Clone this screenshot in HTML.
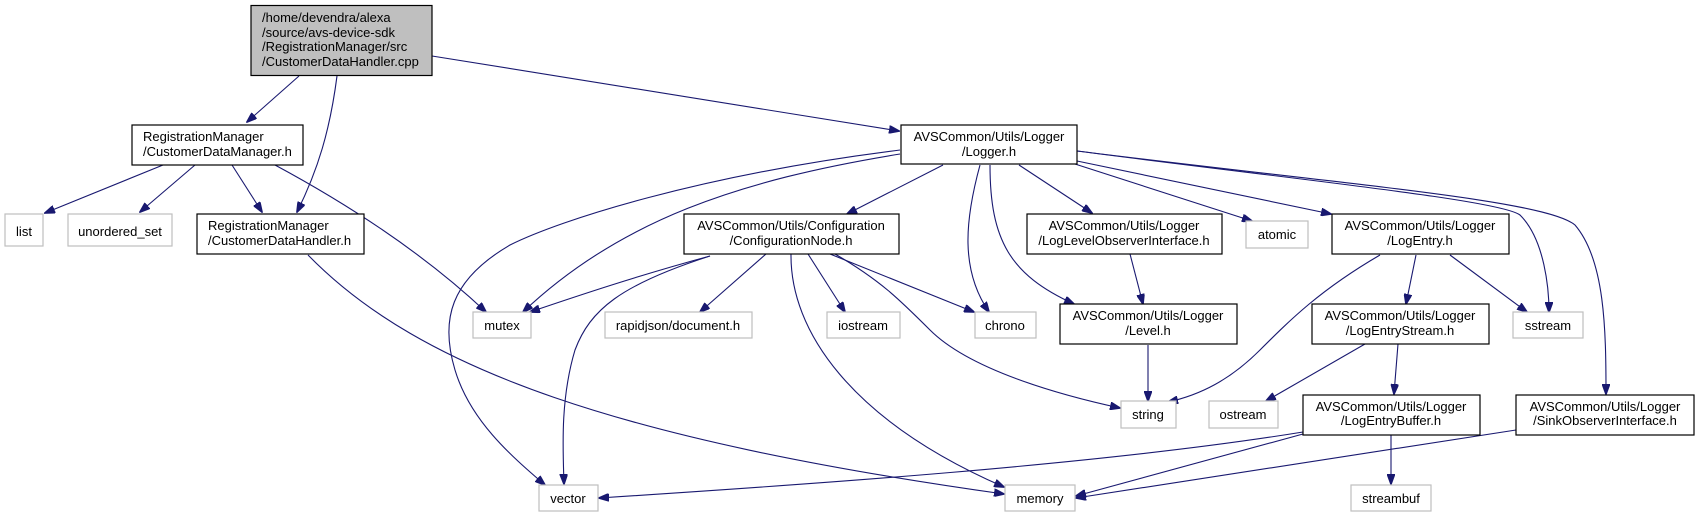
<!DOCTYPE html>
<html><head><meta charset="utf-8"><style>
html,body{margin:0;padding:0;background:#fff;}
svg{display:block;}
text{font-family:"Liberation Sans",Arial,sans-serif;font-size:13px;fill:#000;}
.n{fill:#fff;stroke:#000;stroke-width:1.2;}
.g{fill:#fff;stroke:#bfbfbf;stroke-width:1.2;}
.e{fill:none;stroke:#191970;stroke-width:1.1;}
</style></head><body>
<svg width="1695" height="513" viewBox="0 0 1695 513" xmlns="http://www.w3.org/2000/svg">
<defs>
<marker id="a" markerWidth="11" markerHeight="8" refX="10" refY="4" orient="auto" markerUnits="userSpaceOnUse">
<path d="M0,0 L11,4 L0,8 z" fill="#191970" stroke="#191970"/>
</marker>
</defs>
<g marker-end="url(#a)">
<path class="e" d="M299,76 L247,122"/>
<path class="e" d="M337,76 C330,130 318,170 297,212"/>
<path class="e" d="M432,56 L899,131"/>
<path class="e" d="M163,165 L45,213"/>
<path class="e" d="M195,165 L140,212"/>
<path class="e" d="M232,165 L262,212"/>
<path class="e" d="M275,165 C340,200 420,250 486,312"/>
<path class="e" d="M308,255 C420,370 620,440 1004,494"/>
<path class="e" d="M900,154 C740,180 620,220 523,312"/>
<path class="e" d="M900,150 C700,175 560,220 510,245 C450,280 440,320 455,370 C470,420 510,455 545,485"/>
<path class="e" d="M943,165 L847,214"/>
<path class="e" d="M980,165 C965,220 960,270 989,312"/>
<path class="e" d="M990,165 C990,240 1010,275 1074,304"/>
<path class="e" d="M1019,165 L1092,213"/>
<path class="e" d="M1075,164 L1252,221"/>
<path class="e" d="M1077,161 L1331,214"/>
<path class="e" d="M1077,151 C1300,180 1500,200 1520,215 C1545,240 1549,290 1549,312"/>
<path class="e" d="M1077,151 C1350,185 1545,200 1575,225 C1605,260 1606,330 1606,394"/>
<path class="e" d="M710,256 C640,275 580,295 530,312"/>
<path class="e" d="M710,256 C620,285 590,310 575,350 C560,400 563,450 564,484"/>
<path class="e" d="M766,254 L700,312"/>
<path class="e" d="M808,254 L845,312"/>
<path class="e" d="M830,254 L974,312"/>
<path class="e" d="M835,254 C880,280 900,300 930,330 C970,370 1060,395 1120,408"/>
<path class="e" d="M791,254 C790,330 850,420 1004,487"/>
<path class="e" d="M1130,254 L1143,304"/>
<path class="e" d="M1148,345 L1148,401"/>
<path class="e" d="M1380,255 C1320,290 1290,320 1260,350 C1230,380 1200,395 1168,402"/>
<path class="e" d="M1416,255 L1406,304"/>
<path class="e" d="M1450,255 L1527,312"/>
<path class="e" d="M1365,344 L1266,401"/>
<path class="e" d="M1398,344 L1394,394"/>
<path class="e" d="M1303,432 C1100,465 800,485 599,498"/>
<path class="e" d="M1303,434 L1076,496"/>
<path class="e" d="M1391,435 L1391,484"/>
<path class="e" d="M1516,430 L1076,498"/>
</g>

<rect x="251" y="5.5" width="181" height="70" fill="#bfbfbf" stroke="#000" stroke-width="1.2"/>
<text x="262" y="22">/home/devendra/alexa</text>
<text x="262" y="37">/source/avs-device-sdk</text>
<text x="262" y="51">/RegistrationManager/src</text>
<text x="262" y="66">/CustomerDataHandler.cpp</text>

<rect class="n" x="132" y="125" width="171" height="40"/>
<text x="143" y="141">RegistrationManager</text>
<text x="143" y="156">/CustomerDataManager.h</text>

<rect class="g" x="5" y="214" width="38" height="32"/><text x="24" y="236" text-anchor="middle">list</text>
<rect class="g" x="68" y="214" width="104" height="32"/><text x="120" y="236" text-anchor="middle">unordered_set</text>

<rect class="n" x="197" y="214" width="167" height="40"/>
<text x="208" y="230">RegistrationManager</text>
<text x="208" y="245">/CustomerDataHandler.h</text>

<rect class="n" x="901" y="125" width="176" height="39"/>
<text x="989" y="141" text-anchor="middle">AVSCommon/Utils/Logger</text>
<text x="989" y="156" text-anchor="middle">/Logger.h</text>

<rect class="n" x="684" y="214" width="215" height="40"/>
<text x="791" y="230" text-anchor="middle">AVSCommon/Utils/Configuration</text>
<text x="791" y="245" text-anchor="middle">/ConfigurationNode.h</text>

<rect class="n" x="1027" y="214" width="195" height="40"/>
<text x="1124" y="230" text-anchor="middle">AVSCommon/Utils/Logger</text>
<text x="1124" y="245" text-anchor="middle">/LogLevelObserverInterface.h</text>

<rect class="g" x="1246" y="221" width="62" height="27"/><text x="1277" y="239" text-anchor="middle">atomic</text>

<rect class="n" x="1332" y="214" width="177" height="40"/>
<text x="1420" y="230" text-anchor="middle">AVSCommon/Utils/Logger</text>
<text x="1420" y="245" text-anchor="middle">/LogEntry.h</text>

<rect class="g" x="473" y="312" width="58" height="26"/><text x="502" y="330" text-anchor="middle">mutex</text>
<rect class="g" x="605" y="312" width="147" height="26"/><text x="678" y="330" text-anchor="middle">rapidjson/document.h</text>
<rect class="g" x="827" y="312" width="73" height="26"/><text x="863" y="330" text-anchor="middle">iostream</text>
<rect class="g" x="975" y="312" width="61" height="26"/><text x="1005" y="330" text-anchor="middle">chrono</text>

<rect class="n" x="1060" y="304" width="177" height="40"/>
<text x="1148" y="320" text-anchor="middle">AVSCommon/Utils/Logger</text>
<text x="1148" y="335" text-anchor="middle">/Level.h</text>

<rect class="n" x="1312" y="304" width="177" height="40"/>
<text x="1400" y="320" text-anchor="middle">AVSCommon/Utils/Logger</text>
<text x="1400" y="335" text-anchor="middle">/LogEntryStream.h</text>

<rect class="g" x="1513" y="312" width="70" height="26"/><text x="1548" y="330" text-anchor="middle">sstream</text>

<rect class="g" x="1121" y="401" width="55" height="27"/><text x="1148" y="419" text-anchor="middle">string</text>
<rect class="g" x="1209" y="401" width="69" height="27"/><text x="1243" y="419" text-anchor="middle">ostream</text>

<rect class="n" x="1303" y="395" width="177" height="40"/>
<text x="1391" y="411" text-anchor="middle">AVSCommon/Utils/Logger</text>
<text x="1391" y="425" text-anchor="middle">/LogEntryBuffer.h</text>

<rect class="n" x="1516" y="395" width="178" height="40"/>
<text x="1605" y="411" text-anchor="middle">AVSCommon/Utils/Logger</text>
<text x="1605" y="425" text-anchor="middle">/SinkObserverInterface.h</text>

<rect class="g" x="539" y="485" width="59" height="26"/><text x="568" y="503" text-anchor="middle">vector</text>
<rect class="g" x="1005" y="485" width="70" height="26"/><text x="1040" y="503" text-anchor="middle">memory</text>
<rect class="g" x="1351" y="485" width="80" height="26"/><text x="1391" y="503" text-anchor="middle">streambuf</text>
</svg>
</body></html>
